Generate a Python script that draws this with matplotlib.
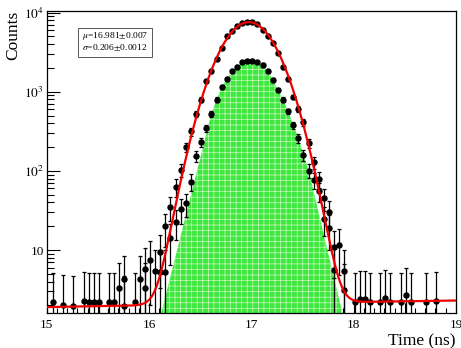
import numpy as np
import matplotlib
matplotlib.use("Agg")
from matplotlib import pyplot as plt
from matplotlib.patches import Rectangle
from matplotlib.ticker import MultipleLocator, FuncFormatter, FixedLocator, FixedFormatter, LogLocator, NullFormatter

plt.rcParams['font.family'] = ['Liberation Serif', 'DejaVu Serif']
plt.rcParams['mathtext.fontset'] = 'stix'
plt.rcParams['hatch.linewidth'] = 0.5

# all events, 50 ps bins (upper black points)
total_t = [15.06, 15.16, 15.26, 15.36, 15.41, 15.46, 15.51, 15.61, 15.66, 15.71,
           15.76, 15.86, 15.91, 15.96, 16.01, 16.06, 16.11, 16.16, 16.21, 16.26,
           16.31, 16.36, 16.41, 16.46, 16.51, 16.56, 16.61, 16.66, 16.71, 16.76,
           16.81, 16.86, 16.91, 16.96, 17.01, 17.06, 17.11, 17.16, 17.21, 17.26,
           17.31, 17.36, 17.41, 17.46, 17.51, 17.56, 17.61, 17.66, 17.71, 17.76,
           17.81, 17.86, 17.91, 18.01, 18.06, 18.11, 18.16, 18.26, 18.31, 18.36,
           18.46, 18.51, 18.56, 18.71, 18.81]
total_n = [2.2, 2.0, 1.95, 2.25, 2.2, 2.2, 2.2, 2.2, 2.2, 3.3,
           4.3, 2.2, 4.3, 5.8, 7.5, 5.4, 9.5, 20, 35, 63,
           103, 200, 315, 525, 795, 1350, 1807, 2595, 3573, 5010,
           5915, 6840, 7300, 7650, 7600, 7200, 5970, 5000, 4100, 3100,
           2050, 1450, 860, 605, 413, 225, 129, 79, 45, 30.5,
           11, 11.7, 5.4, 2.2, 2.4, 2.4, 2.2, 2.2, 2.5, 2.2,
           2.2, 2.7, 2.2, 2.2, 2.3]

# selected events (lower black points, green area)
sel_t = [15.76, 15.96, 16.11, 16.16, 16.21, 16.26, 16.31, 16.36, 16.41, 16.46,
         16.51, 16.56, 16.61, 16.66, 16.71, 16.76, 16.81, 16.86, 16.91, 16.96,
         17.01, 17.06, 17.11, 17.16, 17.21, 17.26, 17.31, 17.36, 17.41, 17.46,
         17.51, 17.56, 17.61, 17.66, 17.71, 17.76, 17.81, 17.91]
sel_n = [1.95, 3.3, 5.3, 5.3, 14, 22.8, 33, 39, 73, 155,
         231, 346, 530, 795, 1145, 1450, 1807, 2060, 2377, 2420,
         2466, 2377, 2198, 1807, 1419, 1059, 795, 564, 382, 258,
         159, 101, 77, 55, 25, 18.8, 5.6, 3.1]

# gaussian + linear background fit (red curve)
FIT_AMP = 7600.
FIT_MU = 16.975
FIT_SIGMA = 0.218
FIT_BG0 = 1.9
FIT_BG1 = 0.1

GREEN_START = 16.12
GREEN_END = 17.89
ERR_SCALE = 4.0
YMIN, YMAX = 1.6, 1.05e4


def errors(n):
	n = np.asarray(n, dtype=float)
	e = np.sqrt(ERR_SCALE * n)
	return [np.minimum(e, n * 0.999), e]


fig = plt.figure(figsize=(4.61, 3.48), dpi=100)
ax = fig.add_axes([0.1013, 0.1006, 0.8877, 0.8678])

# green area under the selected events
st = np.array(sel_t)
sn = np.array(sel_n)
core = (st > 16.6) & (st < 17.6)
gx = np.concatenate([[GREEN_START], st[core], [GREEN_END]])
gy = np.concatenate([[YMIN], sn[core], [YMIN]])
ax.fill_between(gx, YMIN, gy, facecolor='#3fe83f', edgecolor='#c9f7c0',
                hatch='+++', linewidth=0, zorder=2)

ax.errorbar(sel_t, sel_n, yerr=errors(sel_n), fmt='o', color='black',
            markersize=3.6, elinewidth=0.9, capsize=1.3, capthick=0.9, zorder=3)
ax.errorbar(total_t, total_n, yerr=errors(total_n), fmt='o', color='black',
            markersize=3.6, elinewidth=0.9, capsize=1.3, capthick=0.9, zorder=3)

xs = np.linspace(15, 19, 800)
fit = FIT_AMP * np.exp(-0.5 * ((xs - FIT_MU) / FIT_SIGMA) ** 2) + FIT_BG0 + FIT_BG1 * (xs - 15)
ax.plot(xs, fit, color='#ee0000', linewidth=1.6, zorder=4)

ax.set_yscale('log')
ax.set_xlim(15, 19)
ax.set_ylim(YMIN, YMAX)

ax.xaxis.set_major_locator(MultipleLocator(0.5))
ax.xaxis.set_minor_locator(MultipleLocator(0.1))
ax.xaxis.set_major_formatter(FuncFormatter(lambda v, p: '%d' % v if abs(v - round(v)) < 1e-6 else ''))
ax.yaxis.set_major_locator(FixedLocator([10, 100, 1000, 10000]))
ax.yaxis.set_major_formatter(FixedFormatter(['10', '$10^2$', '$10^3$', '$10^4$']))
ax.yaxis.set_minor_locator(LogLocator(base=10, subs=range(2, 10)))
ax.yaxis.set_minor_formatter(NullFormatter())
ax.tick_params(which='both', direction='in', top=False, right=False, labelsize=9.5, width=0.8)
ax.tick_params(axis='x', which='major', length=7, pad=4)
ax.tick_params(axis='x', which='minor', length=3.5)
ax.tick_params(axis='y', which='major', length=9, pad=2)
ax.tick_params(axis='y', which='minor', length=5)
for s in ax.spines.values():
	s.set_linewidth(0.9)

ax.set_xlabel('Time (ns)', fontsize=12.5, loc='right', labelpad=2)
ax.set_ylabel('Counts', fontsize=12.5, loc='top', labelpad=2)

# fit result box
ax.add_patch(Rectangle((0.0765, 0.8477), 0.181, 0.096, transform=ax.transAxes,
                       facecolor='white', edgecolor='#555555', linewidth=0.7, zorder=5))
ax.text(0.086, 0.917, r'$\mu$=16.981$\pm$0.007', transform=ax.transAxes,
        fontsize=6.8, va='center', zorder=6)
ax.text(0.086, 0.877, r'$\sigma$=0.206$\pm$0.0012', transform=ax.transAxes,
        fontsize=6.8, va='center', zorder=6)

fig.savefig('out.png', dpi=100)
